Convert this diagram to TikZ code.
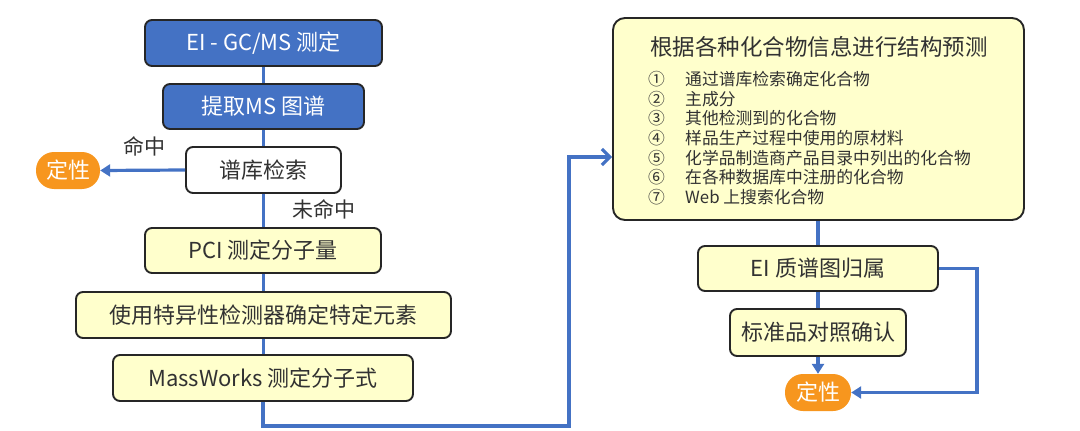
\documentclass[tikz,border=0pt]{standalone}
\usepackage{fontspec}
\setmainfont{Noto Sans CJK SC}
\usetikzlibrary{arrows.meta}
\definecolor{lineblue}{RGB}{68,114,196}
\definecolor{boxblue}{RGB}{68,114,196}
\definecolor{boxyellow}{RGB}{255,255,204}
\definecolor{pillorange}{RGB}{247,150,30}
\definecolor{txtgray}{RGB}{50,50,50}
\tikzset{
  box/.style={draw=black!85, line width=1.9pt, rounded corners=7pt, inner sep=0pt,
    align=center, font=\fontsize{22}{26}\selectfont},
  bluebox/.style={box, fill=boxblue, text=white},
  whitebox/.style={box, fill=white, text=txtgray},
  yelbox/.style={box, fill=boxyellow, text=txtgray},
  pill/.style={fill=pillorange, text=white, rounded corners=18pt, inner sep=0pt,
    font=\fontsize{22}{26}\selectfont},
  conn/.style={draw=lineblue, line width=3.2pt},
  arr/.style={conn, -{Triangle[length=10pt,width=12pt]}},
  barb/.style={conn, -{Straight Barb[length=8pt,width=16pt,line width=3.2pt]}},
  lbl/.style={text=txtgray, font=\fontsize{21}{25}\selectfont, inner sep=0pt},
  item/.style={text=txtgray, font=\fontsize{16.8}{20}\selectfont, inner sep=0pt, anchor=west}
}
\begin{document}
\begin{tikzpicture}[x=1pt,y=1pt]
\useasboundingbox (0,0) rectangle (1080,-431);
% connectors
\draw[conn] (263.5,-43) coordinate (k1) -- (263.5,-400) coordinate (k2);
% left column
\node[bluebox, minimum width=237, minimum height=46] (b1) at (263.5,-43) {EI - GC/MS 测定};
\node[bluebox, minimum width=201, minimum height=45] (b2) at (263.5,-106.5) {提取MS 图谱};
\node[whitebox, minimum width=155, minimum height=46] (b3) at (263.5,-170) {谱库检索};
\node[pill, minimum width=64, minimum height=37] (d1) at (68,-170.5) {定性};
\node[yelbox, minimum width=236, minimum height=45] (b4) at (263,-250.5) {PCI 测定分子量};
\node[yelbox, minimum width=375, minimum height=46] (b5) at (263.5,-315) {使用特异性检测器确定特定元素};
\node[yelbox, minimum width=300, minimum height=46] (b6) at (263,-378) {MassWorks 测定分子式};
\node[lbl] (l1) at (144,-146) {命中};
\node[lbl] (l2) at (324,-209) {未命中};
% right column
\draw[conn] (818,-119) coordinate (k3) -- (818,-332) coordinate (k4);
\node[yelbox, minimum width=411, minimum height=202, rounded corners=12pt] (big) at (818.5,-119) {};
\node[text=txtgray, font=\fontsize{22.5}{26}\selectfont, inner sep=0pt] (title) at (819,-47) {根据各种化合物信息进行结构预测};
\node[item] (n1) at (648,-79) {①}; \node[item] (t1) at (685,-79) {通过谱库检索确定化合物};
\node[item] (n2) at (648,-98.7) {②}; \node[item] (t2) at (685,-98.7) {主成分};
\node[item] (n3) at (648,-118.4) {③}; \node[item] (t3) at (685,-118.4) {其他检测到的化合物};
\node[item] (n4) at (648,-138.1) {④}; \node[item] (t4) at (685,-138.1) {样品生产过程中使用的原材料};
\node[item] (n5) at (648,-157.8) {⑤}; \node[item] (t5) at (685,-157.8) {化学品制造商产品目录中列出的化合物};
\node[item] (n6) at (648,-177.5) {⑥}; \node[item] (t6) at (685,-177.5) {在各种数据库中注册的化合物};
\node[item] (n7) at (648,-197.2) {⑦}; \node[item] (t7) at (685,-197.2) {Web 上搜索化合物};
\node[yelbox, minimum width=240, minimum height=45] (ei) at (818,-268.5) {EI 质谱图归属};
\node[yelbox, minimum width=176, minimum height=47] (std) at (818,-332.5) {标准品对照确认};
\node[pill, minimum width=66, minimum height=37] (d2) at (818,-392.5) {定性};
% remaining connectors
\draw[arr] (b3.west) -- (d1.east);
\coordinate (c1) at (263,-426);
\coordinate (c2) at (569,-426);
\coordinate (c3) at (569,-157);
\draw[barb] (b6.south) -- (c1) -- (c2) -- (c3) -- (c3 -| big.west);
\draw[arr] (std.south) -- (d2.north);
\coordinate (c4) at (977,-268.5);
\coordinate (c5) at (977,-392.5);
\draw[arr] (ei.east) -- (c4) -- (c5) -- (d2.east);
\end{tikzpicture}
\end{document}
